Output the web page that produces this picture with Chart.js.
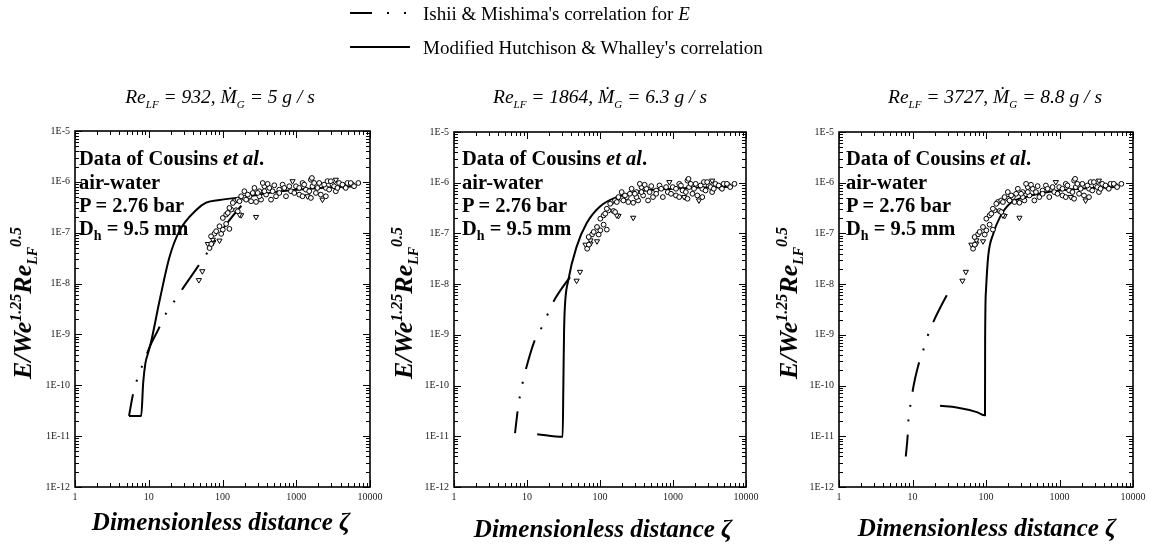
<!DOCTYPE html>
<html>
<head>
<meta charset="utf-8">
<script src="https://cdn.jsdelivr.net/npm/chart.js@4/dist/chart.umd.min.js"></script>
<style>
  body { margin: 0; background: #fff; width: 1155px; height: 544px; overflow: hidden; position: relative;
         font-family: "Liberation Serif", "Times New Roman", serif; color: #000; }
  canvas { position: absolute; top: 0; }
  .txt { position: absolute; white-space: nowrap; line-height: 1; }
  .title { font-style: italic; font-size: 19.5px; transform: translate(-50%, -50%); top: 97px; }
  .title sub { font-size: 11px; vertical-align: 0; position: relative; top: 5px; }
  .xtitle { font-weight: bold; font-style: italic; font-size: 25px; transform: translate(-50%, -50%); }
  .ytitle { font-weight: bold; font-style: italic; font-size: 26px; top: 303px; transform: translate(-50%, -50%) rotate(-90deg); }
  .ytitle .sup { font-size: 16px; position: relative; top: -10px; }
  .ytitle .sub { font-size: 14px; position: relative; top: 6px; }
  .note { font-weight: bold; font-size: 20.5px; transform: translateY(-50%); }
  .note sub { font-size: 14px; vertical-align: 0; position: relative; top: 5px; }
  .legend { font-size: 19px; left: 423px; transform: translateY(-50%); }
  .swatch { position: absolute; background: #000; height: 2px; }
</style>
</head>
<body>
<canvas id="p1" width="385" height="544" style="left:0px"></canvas>
<canvas id="p2" width="385" height="544" style="left:385px"></canvas>
<canvas id="p3" width="385" height="544" style="left:770px"></canvas>

<!-- legend -->
<div class="swatch" style="left:350px; top:12px; width:22px"></div>
<div class="swatch" style="left:387px; top:12px; width:2px"></div>
<div class="swatch" style="left:404px; top:12px; width:2px"></div>
<div class="txt legend" style="top:13px">Ishii &amp; Mishima's correlation for <i>E</i></div>
<div class="swatch" style="left:350px; top:46px; width:60px"></div>
<div class="txt legend" style="top:47px">Modified Hutchison &amp; Whalley's correlation</div>

<!-- panel titles -->
<div class="txt title" style="left:220px"><i>Re</i><sub>LF</sub> = 932, <i>Ṁ</i><sub>G</sub> = 5 g / s</div>
<div class="txt title" style="left:600px"><i>Re</i><sub>LF</sub> = 1864, <i>Ṁ</i><sub>G</sub> = 6.3 g / s</div>
<div class="txt title" style="left:995px"><i>Re</i><sub>LF</sub> = 3727, <i>Ṁ</i><sub>G</sub> = 8.8 g / s</div>

<!-- y titles -->
<div class="txt ytitle" style="left:23px">E/We<span class="sup">1.25</span>Re<span class="sub">LF</span><span class="sup">0.5</span></div>
<div class="txt ytitle" style="left:404px">E/We<span class="sup">1.25</span>Re<span class="sub">LF</span><span class="sup">0.5</span></div>
<div class="txt ytitle" style="left:789px">E/We<span class="sup">1.25</span>Re<span class="sub">LF</span><span class="sup">0.5</span></div>

<!-- x titles -->
<div class="txt xtitle" style="left:221px; top:521px">Dimensionless distance ζ</div>
<div class="txt xtitle" style="left:603px; top:528px">Dimensionless distance ζ</div>
<div class="txt xtitle" style="left:987px; top:527px">Dimensionless distance ζ</div>

<!-- notes -->
<div class="txt note" style="left:79px; top:158px">Data of Cousins <i>et al</i>.</div>
<div class="txt note" style="left:79px; top:182px">air-water</div>
<div class="txt note" style="left:79px; top:205px">P = 2.76 bar</div>
<div class="txt note" style="left:79px; top:228px">D<sub>h</sub> = 9.5 mm</div>
<div class="txt note" style="left:462px; top:158px">Data of Cousins <i>et al</i>.</div>
<div class="txt note" style="left:462px; top:182px">air-water</div>
<div class="txt note" style="left:462px; top:205px">P = 2.76 bar</div>
<div class="txt note" style="left:462px; top:228px">D<sub>h</sub> = 9.5 mm</div>
<div class="txt note" style="left:846px; top:158px">Data of Cousins <i>et al</i>.</div>
<div class="txt note" style="left:846px; top:182px">air-water</div>
<div class="txt note" style="left:846px; top:205px">P = 2.76 bar</div>
<div class="txt note" style="left:846px; top:228px">D<sub>h</sub> = 9.5 mm</div>

<script>
// axis ticks
const xTickValues = [1, 10, 100, 1000, 10000];
const xTickLabels = ["1", "10", "100", "1000", "10000"];
const yTickValues = [1e-12, 1e-11, 1e-10, 1e-9, 1e-8, 1e-7, 1e-6, 1e-5];
const yTickLabels = ["1E-12", "1E-11", "1E-10", "1E-9", "1E-8", "1E-7", "1E-6", "1E-5"];

// Cousins et al. data (same in all three panels) - open circles
const circX = [66.7, 70.4, 78, 96, 101, 91, 124, 112, 101, 112, 131, 153, 145, 161, 198, 232, 285, 333,
  257, 316, 390, 455, 532, 370, 432, 504, 589, 653, 726, 848, 991, 1098, 1217, 1352, 1580, 1660, 1846,
  2046, 2520, 2650, 3096, 3438, 3811, 4454, 4935, 5768, 6950, 209, 244, 316, 370, 478, 589, 689, 804,
  940, 1098, 1283, 1500, 1750, 1941, 2154, 2390, 2793, 2940, 3265, 3620, 4225, 4690, 5480, 6080, 351,
  409, 271, 300, 198, 220, 179, 170, 138, 124, 118, 161, 82, 70, 1217, 1580, 2520, 1630];
const circY = [5.0e-8, 6.0e-8, 9.6e-8, 9.5e-8, 1.15e-7, 1.34e-7, 1.19e-7, 1.49e-7, 1.95e-7, 2.27e-7,
  2.85e-7, 2.77e-7, 4.16e-7, 4.47e-7, 4.83e-7, 5.21e-7, 4.03e-7, 4.47e-7, 6.05e-7, 6.54e-7, 5.61e-7,
  4.47e-7, 5.21e-7, 8.2e-7, 7.6e-7, 8.57e-7, 7.03e-7, 8.81e-7, 5.21e-7, 6.54e-7, 8.2e-7, 5.61e-7,
  9.5e-7, 7.03e-7, 1.10e-6, 8.2e-7, 6.05e-7, 9.5e-7, 7.6e-7, 1.03e-6, 8.81e-7, 6.54e-7, 9.5e-7,
  8.2e-7, 9.5e-7, 8.81e-7, 9.5e-7, 4.47e-7, 4.16e-7, 5.21e-7, 6.54e-7, 6.54e-7, 6.05e-7, 7.6e-7,
  8.2e-7, 6.05e-7, 7.6e-7, 8.81e-7, 6.54e-7, 9.5e-7, 7.6e-7, 5.61e-7, 8.81e-7, 7.03e-7, 1.03e-6,
  8.2e-7, 7.6e-7, 8.81e-7, 7.6e-7, 9.5e-7, 8.2e-7, 9.5e-7, 9.1e-7, 7.6e-7, 6.05e-7, 6.54e-7, 5.61e-7,
  5.21e-7, 4.16e-7, 3.85e-7, 3.07e-7, 2.45e-7, 2.64e-7, 1.07e-7, 8.5e-8, 5.21e-7, 4.83e-7, 5.21e-7, 1.19e-6];
// Cousins et al. data - triangles
const triX = [47.8, 53.2, 63.3, 74, 91, 179, 285, 891, 1422, 2266, 170, 74, 3438];
const triY = [1.17e-8, 1.75e-8, 6.0e-8, 7.3e-8, 7.0e-8, 2.21e-7, 2.04e-7, 1.03e-6, 5.21e-7, 4.47e-7, 2.27e-7, 6.3e-8, 1.10e-6];

// Modified Hutchison & Whalley (solid) and Ishii & Mishima (dash-dot), per panel
const hutch1X = [5.4, 7.9, 8.4, 9.0, 9.8, 10.9, 14.1, 19.2, 26.2, 44, 60, 91, 210, 600, 2000, 6500];
const hutch1Y = [2.5e-11, 2.5e-11, 1.1e-10, 2.7e-10, 4.3e-10, 7.8e-10, 4.8e-9, 3.4e-8, 1.1e-7, 2.8e-7, 3.9e-7, 4.4e-7, 5.1e-7, 6.5e-7, 7.5e-7, 8.2e-7];
const ishii1X = [5.4, 6.1, 6.95, 8.4, 10.9, 13.3, 16.1, 21.3, 27.7, 52.5, 112, 244];
const ishii1Y = [2.5e-11, 6.5e-11, 1.3e-10, 2.7e-10, 6.8e-10, 1.2e-9, 2.2e-9, 4.1e-9, 7.3e-9, 2.8e-8, 1.45e-7, 5.7e-7];

const hutch2X = [13.8, 30.8, 31.5, 32.2, 33, 36.8, 47.9, 65.8, 100, 170, 354, 1000, 6500];
const hutch2Y = [1.1e-11, 9.8e-12, 1.1e-10, 1.2e-9, 3.5e-9, 1.2e-8, 5.5e-8, 1.6e-7, 3.4e-7, 5.2e-7, 6.8e-7, 7.6e-7, 8.3e-7];
const ishii2X = [6.85, 7.45, 8.0, 8.9, 9.9, 12.5, 15.1, 18.6, 23, 43];
const ishii2Y = [1.15e-11, 3.2e-11, 6.2e-11, 1.3e-10, 2.4e-10, 7.2e-10, 1.2e-9, 2.3e-9, 4.5e-9, 1.7e-8];

const hutch3X = [23.7, 40, 75, 96.9, 97.3, 100, 107, 126, 155, 212, 358, 1000, 6500];
const hutch3Y = [4.0e-11, 3.7e-11, 3.0e-11, 2.6e-11, 7.9e-10, 7.6e-9, 3.5e-8, 1e-7, 2.1e-7, 3.9e-7, 5.3e-7, 7e-7, 8.3e-7];
const ishii3X = [8.1, 8.6, 8.8, 9.5, 10.3, 11.8, 13.7, 15.9, 19.2, 35.2];
const ishii3Y = [4e-12, 1.05e-11, 2.1e-11, 4.6e-11, 9.6e-11, 2.3e-10, 4.5e-10, 9.1e-10, 1.8e-9, 1e-8];

function pts(xs, ys) {
  return xs.map((x, i) => ({ x: x, y: ys[i] }));
}

// frame + inward log ticks on all four sides
const frameTicks = {
  id: "frameTicks",
  afterDraw(chart) {
    const { ctx, chartArea: a, scales } = chart;
    const x = scales.x, y = scales.y;
    ctx.save();
    ctx.strokeStyle = "#000";
    ctx.lineWidth = 1;
    ctx.beginPath();
    for (let d = 0; d <= 4; d++) {
      for (let m = 1; m <= (d === 4 ? 1 : 9); m++) {
        const px = Math.round(x.getPixelForValue(m * Math.pow(10, d))) + 0.5;
        const len = m === 1 ? 7 : 4;
        ctx.moveTo(px, a.bottom); ctx.lineTo(px, a.bottom - len);
        ctx.moveTo(px, a.top); ctx.lineTo(px, a.top + len);
      }
    }
    for (let d = -12; d <= -5; d++) {
      for (let m = 1; m <= (d === -5 ? 1 : 9); m++) {
        const py = Math.round(y.getPixelForValue(m * Math.pow(10, d))) + 0.5;
        const len = m === 1 ? 7 : 4;
        ctx.moveTo(a.left, py); ctx.lineTo(a.left + len, py);
        ctx.moveTo(a.right, py); ctx.lineTo(a.right - len, py);
      }
    }
    ctx.stroke();
    ctx.lineWidth = 1.6;
    ctx.strokeRect(a.left, a.top, a.right - a.left, a.bottom - a.top);
    ctx.restore();
  }
};

const tickFont = { family: "'Liberation Serif', 'Times New Roman', serif", size: 10 };

function makePanel(id, area, hx, hy, ix, iy) {
  const yW = 40, xH = 20;
  new Chart(document.getElementById(id), {
    type: "scatter",
    data: {
      datasets: [
        { data: pts(circX, circY), pointStyle: "circle", pointRadius: 2.4, pointBackgroundColor: "#fff",
          pointBorderColor: "#000", pointBorderWidth: 1, showLine: false, order: 0 },
        { data: pts(triX, triY), pointStyle: "triangle", rotation: 180, pointRadius: 3, pointBackgroundColor: "#fff",
          pointBorderColor: "#000", pointBorderWidth: 1, showLine: false, order: 0 },
        { data: pts(hx, hy), showLine: true, borderColor: "#000", borderWidth: 2, pointRadius: 0,
          cubicInterpolationMode: "monotone", order: 2 },
        { data: pts(ix, iy), showLine: true, borderColor: "#000", borderWidth: 2, pointRadius: 0,
          borderDash: [30, 13, 2, 13, 2, 13], borderDashOffset: 8, cubicInterpolationMode: "monotone", order: 2 }
      ]
    },
    options: {
      responsive: false,
      animation: false,
      devicePixelRatio: 1,
      layout: { padding: { left: area.left - yW, right: 385 - area.right, top: area.top, bottom: 544 - area.bottom - xH } },
      plugins: { legend: { display: false }, tooltip: { enabled: false } },
      scales: {
        x: {
          type: "logarithmic", min: 1, max: 10000,
          grid: { display: false, drawTicks: false }, border: { display: false },
          afterBuildTicks: (s) => { s.ticks = xTickValues.map((v) => ({ value: v })); },
          afterFit: (s) => { s.height = xH; s.paddingLeft = 0; s.paddingRight = 0; },
          ticks: { autoSkip: false, maxRotation: 0, padding: 4, color: "#222", font: tickFont,
                   callback: (v, i) => xTickLabels[i] }
        },
        y: {
          type: "logarithmic", min: 1e-12, max: 1e-5,
          grid: { display: false, drawTicks: false }, border: { display: false },
          afterBuildTicks: (s) => { s.ticks = yTickValues.map((v) => ({ value: v })); },
          afterFit: (s) => { s.width = yW; s.paddingTop = 0; s.paddingBottom = 0; },
          ticks: { autoSkip: false, padding: 5, color: "#222", font: tickFont,
                   callback: (v, i) => yTickLabels[i] }
        }
      }
    },
    plugins: [frameTicks]
  });
}

makePanel("p1", { left: 75, right: 370, top: 131, bottom: 487 }, hutch1X, hutch1Y, ishii1X, ishii1Y);
makePanel("p2", { left: 69, right: 361, top: 132, bottom: 487 }, hutch2X, hutch2Y, ishii2X, ishii2Y);
makePanel("p3", { left: 69, right: 363, top: 132, bottom: 487 }, hutch3X, hutch3Y, ishii3X, ishii3Y);
</script>
</body>
</html>
